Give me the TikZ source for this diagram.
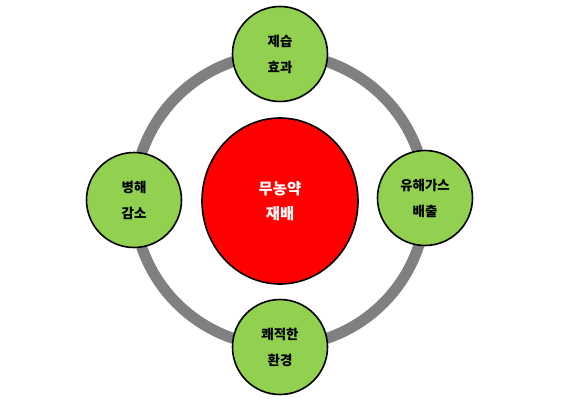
\documentclass[tikz,border=0pt]{standalone}
\usepackage{fontspec}
\newfontfamily\kr{Noto Sans CJK KR}
\usetikzlibrary{shapes.geometric}
\definecolor{leaf}{HTML}{92D050}
\definecolor{ringgray}{HTML}{808080}

\begin{document}
\begin{tikzpicture}[x=1bp, y=-1bp,
  goal/.style={circle, draw=black, line width=1.6bp, fill=leaf, minimum size=95bp, inner sep=0pt,
    align=center, font=\kr\bfseries\fontsize{13.5}{26}\selectfont},
  core/.style={ellipse, draw=black, line width=1.6bp, fill=red, minimum width=156bp, minimum height=166bp,
    inner sep=0pt, text=white, align=center, font=\kr\bfseries\fontsize{15.5}{25}\selectfont}]
  \useasboundingbox (0,0) rectangle (572,406);
  \coordinate (c) at (280,200);
  \draw[ringgray, line width=11bp] (c) circle [radius=146bp];
  \node[core] (m) at (280,201) {무농약\\재배};
  \node[goal] (t) at (280,54) {제습\\효과};
  \node[goal] (l) at (134,200) {병해\\감소};
  \node[goal] (r) at (425,198) {유해가스\\배출};
  \node[goal] (b) at (280,347) {쾌적한\\환경};
\end{tikzpicture}
\end{document}
